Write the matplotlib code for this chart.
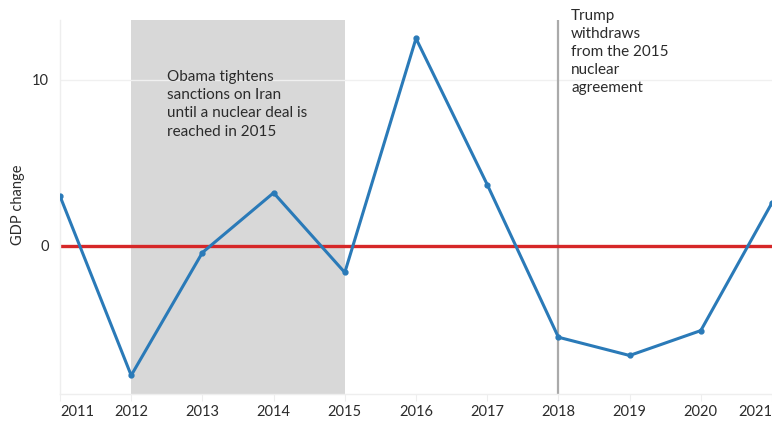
import matplotlib.pyplot as plt

plt.rcParams['font.family'] = ['Lato', 'DejaVu Sans']

# Iran GDP change by year
years = [2011, 2012, 2013, 2014, 2015, 2016, 2017, 2018, 2019, 2020, 2021]
gdp_change = [3.0, -7.8, -0.4, 3.2, -1.6, 12.5, 3.7, -5.5, -6.6, -5.1, 2.6]
year_labels = [str(y) for y in years]

sanction_start, sanction_end = 2012, 2015
withdraw_year = 2018

fig = plt.figure(figsize=(7.72, 4.23), dpi=100)
ax = fig.add_axes([60 / 772, 29 / 423, 712 / 772, 374 / 423])

ax.axvspan(sanction_start, sanction_end, color='#d8d8d8', lw=0, zorder=0)
ax.axhline(10, color='#f0f0f0', lw=1, zorder=0.5)
ax.axvline(withdraw_year, color='#aaaaaa', lw=1.6, zorder=1)
ax.axhline(0, color='#d62728', lw=2.4, zorder=2)
ax.plot(years, gdp_change, color='#2a7ab8', lw=2.2, marker='o', ms=3.5, zorder=3)

ax.text(2012.5, 10.6, 'Obama tightens\nsanctions on Iran\nuntil a nuclear deal is\nreached in 2015',
        fontsize=11, color='#2b2b2b', va='top', ha='left', linespacing=1.38)
ax.text(2018.18, 14.3, 'Trump\nwithdraws\nfrom the 2015\nnuclear\nagreement',
        fontsize=11, color='#2b2b2b', va='top', ha='left', linespacing=1.38)

ax.set_xlim(2011, 2020.93)
ax.set_ylim(-8.92, 13.61)
ax.set_xticks(years)
ax.set_xticklabels(year_labels)
ax.get_xticklabels()[0].set_ha('left')
ax.get_xticklabels()[-1].set_ha('right')
ax.set_yticks([0, 10])
ax.set_yticklabels(['0', '10'])
ax.tick_params(axis='x', length=5, color='#eeeeee', pad=3, labelsize=10.5, labelcolor='#2b2b2b')
ax.tick_params(axis='y', length=0, pad=8, labelsize=10.5, labelcolor='#2b2b2b')
fig.text(18 / 772, (423 - 205) / 423, 'GDP change', rotation=90, fontsize=10.5,
         color='#2b2b2b', ha='center', va='center')

for side in ['top', 'right']:
    ax.spines[side].set_visible(False)
for side in ['left', 'bottom']:
    ax.spines[side].set_color('#eeeeee')
    ax.spines[side].set_linewidth(1)

fig.savefig('out.png', dpi=100)
